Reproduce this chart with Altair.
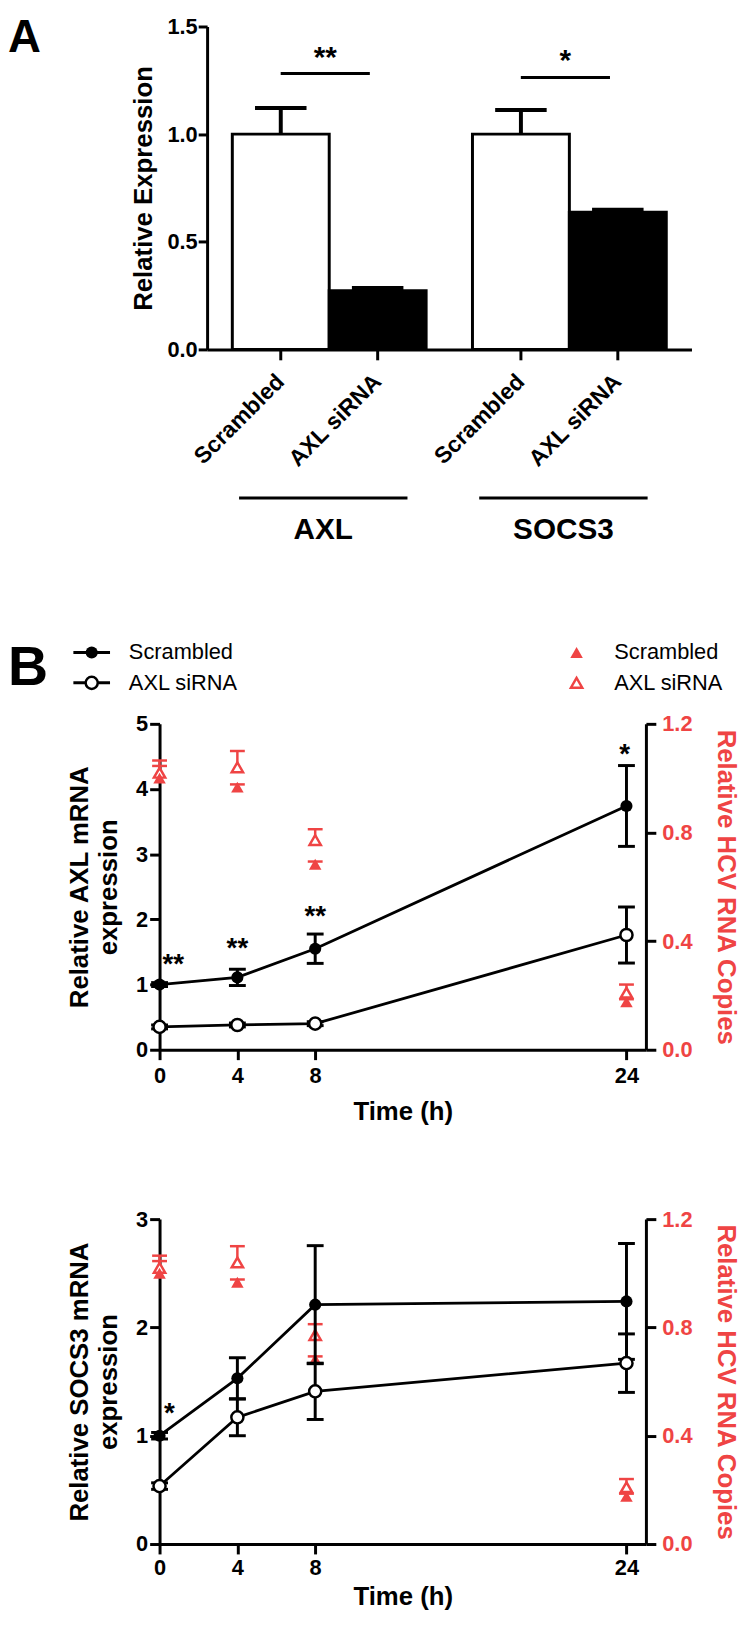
import altair as alt
import pandas as pd

FONT = "Liberation Sans, Arial, Helvetica, sans-serif"
RED = "#EF4444"
BLACK = "#000000"

# ---------------- Panel A data ----------------
group_order = ["AXL", "SOCS3"]
treat_order = ["Scrambled", "AXL siRNA"]
genes = ["AXL", "AXL", "SOCS3", "SOCS3"]
treatments = ["Scrambled", "AXL siRNA", "Scrambled", "AXL siRNA"]
rel_expression = [1.0, 0.273, 1.0, 0.637]
rel_expression_err = [0.121, 0.012, 0.112, 0.012]
sig_genes = ["AXL", "SOCS3"]
sig_line_level = [1.282, 1.263]
sig_star_level = [1.39, 1.375]
sig_labels = ["**", "*"]

# ---------------- Panel B data ----------------
hours = [0, 4, 8, 24]
axl_scr = [1.0, 1.11, 1.55, 3.74]
axl_scr_err = [0.03, 0.125, 0.225, 0.62]
axl_si = [0.35, 0.38, 0.40, 1.76]
axl_si_err = [0.03, 0.03, 0.03, 0.43]
socs_scr = [1.0, 1.53, 2.21, 2.24]
socs_scr_err = [0.03, 0.19, 0.545, 0.535]
socs_si = [0.535, 1.17, 1.41, 1.67]
socs_si_err = [0.03, 0.17, 0.26, 0.27]
hcv_scr = [1.0, 0.967, 0.683, 0.176]
hcv_scr_err = [0.045, 0.01, 0.01, 0.01]
hcv_si = [1.02, 1.04, 0.772, 0.21]
hcv_si_err = [0.045, 0.06, 0.04, 0.03]
axl_star_hour = [0.7, 4.0, 8.0, 23.9]
axl_star_level = [1.42, 1.67, 2.15, 4.64]
axl_star_label = ["**", "**", "**", "*"]
socs_star_hour = [0.5]
socs_star_level = [1.27]
socs_star_label = ["*"]

# ================= Panel A =================
SHIFT_A = 48            # panel A plot starts 48px right of panel B plots
WA, HA = 489, 326
dfA = pd.DataFrame({"gene": genes, "treatment": treatments,
                    "expr": rel_expression, "err": rel_expression_err})
dfA["top"] = dfA["expr"] + dfA["err"]
dfSig = pd.DataFrame({"gene": sig_genes, "line": sig_line_level,
                      "star": sig_star_level, "label": sig_labels})
dfGroup = pd.DataFrame({"gene": group_order})

xA = alt.X("gene:N", sort=group_order,
           scale=alt.Scale(domain=group_order, range=[SHIFT_A, SHIFT_A + WA],
                           paddingInner=0.193, paddingOuter=0.105),
           axis=alt.Axis(labels=False, ticks=False, title=None, domain=True,
                         domainWidth=3, domainColor=BLACK, grid=False))
xoA = alt.XOffset("treatment:N",
                  scale=alt.Scale(domain=treat_order, paddingInner=0, paddingOuter=0))
axisA = alt.Axis(values=[0, 0.5, 1.0, 1.5], format=".1f", title="Relative Expression",
                 offset=-SHIFT_A, grid=False, domainWidth=3, domainColor=BLACK,
                 tickWidth=3, tickColor=BLACK, tickSize=9, labelFont=FONT,
                 labelFontSize=22, labelFontWeight="bold", labelColor=BLACK,
                 labelPadding=1, labelOverlap=False, titleFont=FONT, titleFontSize=26,
                 titleFontWeight="bold", titleColor=BLACK, titlePadding=11)
scA = alt.Scale(domain=[0, 1.5], nice=False, zero=True)


def yA(f):
    return alt.Y(f"{f}:Q", scale=scA, axis=axisA)


baseA = alt.Chart(dfA)
bars = baseA.mark_bar(stroke=BLACK, strokeWidth=3).encode(
    x=xA, xOffset=xoA, y=yA("expr"),
    fill=alt.Fill("treatment:N", scale=alt.Scale(domain=treat_order, range=["white", BLACK]),
                  legend=None))
errA = baseA.mark_rule(color=BLACK, strokeWidth=4).encode(
    x=xA, xOffset=xoA, y=yA("expr"), y2="top:Q")
capA = baseA.mark_tick(orient="horizontal", color=BLACK, size=52, thickness=4, opacity=1).encode(
    x=xA, xOffset=xoA, y=yA("top"))
axTicksA = baseA.mark_rule(color=BLACK, strokeWidth=3).encode(
    x=xA, xOffset=xoA, y=alt.value(HA), y2=alt.value(HA + 11))
axLabelsA = baseA.mark_text(angle=315, align="right", baseline="middle", font=FONT,
                            fontSize=23, fontWeight="bold", color=BLACK).encode(
    x=xA, xOffset=xoA, y=alt.value(HA + 29), text="treatment:N")
sigLines = alt.Chart(dfSig).mark_tick(orient="horizontal", color=BLACK, size=90,
                                      thickness=3, opacity=1, xOffset=-4).encode(
    x=xA, y=yA("line"))
sigStars = alt.Chart(dfSig).mark_text(font=FONT, fontSize=30, fontWeight="bold",
                                      baseline="middle", dy=8, dx=-4, color=BLACK).encode(
    x=xA, y=yA("star"), text="label:N")
groupLines = alt.Chart(dfGroup).mark_tick(orient="horizontal", color=BLACK, size=170,
                                          thickness=3, opacity=1, xOffset=-6).encode(
    x=xA, y=alt.value(476))
groupLabels = alt.Chart(dfGroup).mark_text(font=FONT, fontSize=30, fontWeight="bold",
                                           baseline="middle", dx=-6, color=BLACK).encode(
    x=xA, y=alt.value(508), text="gene:N")
letterA = alt.Chart(pd.DataFrame({"panel": ["A"]})).mark_text(
    align="left", baseline="top", font=FONT, fontSize=46, fontWeight="bold", color=BLACK
).encode(x=alt.value(-153), y=alt.value(-10), text="panel:N")

panelA = alt.layer(bars, errA, capA, axTicksA, axLabelsA, sigLines, sigStars,
                   groupLines, groupLabels, letterA).properties(
    width=SHIFT_A + WA, height=HA)


# ================= Panel B =================
WB = 491


def b_panel(scr, scr_err, si, si_err, ymax, ytitle, star_h, star_y, star_lab, legend,
            height, xlabpad, xtitlepad):
    d = pd.DataFrame({"hour": hours * 2,
                      "series": [treat_order[0]] * 4 + [treat_order[1]] * 4,
                      "value": scr + si, "err": scr_err + si_err})
    d["lo"] = d["value"] - d["err"]
    d["hi"] = d["value"] + d["err"]
    dh = pd.DataFrame({"hour": hours * 2,
                       "series": [treat_order[0]] * 4 + [treat_order[1]] * 4,
                       "hcv": hcv_scr + hcv_si, "err": hcv_scr_err + hcv_si_err})
    dh["hi"] = dh["hcv"] + dh["err"]
    ds = pd.DataFrame({"hour": star_h, "level": star_y, "label": star_lab})

    xaxis = alt.Axis(values=hours, format="d", title="Time (h)", grid=False,
                     domainWidth=3, domainColor=BLACK, tickWidth=3, tickColor=BLACK,
                     tickSize=10, labelFont=FONT, labelFontSize=22, labelFontWeight="bold",
                     labelColor=BLACK, labelPadding=xlabpad, labelFlush=False,
                     labelOverlap=False, titleFont=FONT, titleFontSize=26,
                     titleFontWeight="bold", titleColor=BLACK, titlePadding=xtitlepad)
    X = alt.X("hour:Q", scale=alt.Scale(domain=[0, 25], nice=False, zero=False), axis=xaxis)

    sL = alt.Scale(domain=[0, ymax], nice=False)
    axL = alt.Axis(orient="left", values=list(range(ymax + 1)), format="d", title=ytitle,
                   titleLineHeight=30, grid=False, domainWidth=3, domainColor=BLACK,
                   tickWidth=3, tickColor=BLACK, tickSize=10, labelFont=FONT,
                   labelFontSize=22, labelFontWeight="bold", labelColor=BLACK,
                   labelPadding=2, labelOverlap=False, titleFont=FONT, titleFontSize=26,
                   titleFontWeight="bold", titleColor=BLACK, titlePadding=14)
    sR = alt.Scale(domain=[0, 1.2], nice=False)
    axR = alt.Axis(orient="right", values=[0, 0.4, 0.8, 1.2], format=".1f",
                   title="Relative HCV RNA Copies", grid=False, domainWidth=3,
                   domainColor=BLACK, tickWidth=3, tickColor=BLACK, tickSize=10,
                   labelFont=FONT, labelFontSize=22, labelFontWeight="bold",
                   labelColor=RED, labelPadding=6, labelOverlap=False, titleFont=FONT,
                   titleFontSize=26, titleFontWeight="bold", titleColor=RED,
                   titlePadding=21)

    def YL(f):
        return alt.Y(f"{f}:Q", scale=sL, axis=axL)

    def YR(f):
        return alt.Y(f"{f}:Q", scale=sR, axis=axR)

    # red (HCV RNA) layer
    r_err = alt.Chart(dh).mark_rule(color=RED, strokeWidth=2.5).encode(
        x=X, y=YR("hcv"), y2="hi:Q")
    r_cap = alt.Chart(dh).mark_tick(orient="horizontal", color=RED, size=15,
                                    thickness=2.5, opacity=1).encode(x=X, y=YR("hi"))
    r_si = alt.Chart(dh[dh["series"] == treat_order[1]]).mark_point(
        shape="triangle-up", filled=True, fill="white", stroke=RED, strokeWidth=2.5,
        size=130, opacity=1).encode(x=X, y=YR("hcv"))
    r_scr = alt.Chart(dh[dh["series"] == treat_order[0]]).mark_point(
        shape="triangle-up", filled=True, color=RED, size=160, opacity=1).encode(
        x=X, y=YR("hcv"))
    red = alt.layer(r_err, r_cap, r_si, r_scr)

    # black (mRNA) layer
    k_err = alt.Chart(d).mark_rule(color=BLACK, strokeWidth=3).encode(
        x=X, y=YL("lo"), y2="hi:Q")
    k_cap_lo = alt.Chart(d).mark_tick(orient="horizontal", color=BLACK, size=17,
                                      thickness=3, opacity=1).encode(x=X, y=YL("lo"))
    k_cap_hi = alt.Chart(d).mark_tick(orient="horizontal", color=BLACK, size=17,
                                      thickness=3, opacity=1).encode(x=X, y=YL("hi"))
    k_line = alt.Chart(d).mark_line(color=BLACK, strokeWidth=2.8).encode(
        x=X, y=YL("value"), detail="series:N")
    k_si = alt.Chart(d[d["series"] == treat_order[1]]).mark_point(
        shape="circle", filled=True, fill="white", stroke=BLACK, strokeWidth=2.5,
        size=150, opacity=1).encode(x=X, y=YL("value"))
    k_scr = alt.Chart(d[d["series"] == treat_order[0]]).mark_point(
        shape="circle", filled=True, color=BLACK, size=150, opacity=1).encode(
        x=X, y=YL("value"))
    k_star = alt.Chart(ds).mark_text(font=FONT, fontSize=28, fontWeight="bold",
                                     baseline="middle", dy=8, color=BLACK).encode(
        x=X, y=YL("level"), text="label:N")
    black = alt.layer(k_err, k_cap_lo, k_cap_hi, k_line, k_si, k_scr, k_star)

    layers = [red, black]
    if legend:
        for i, name in enumerate(treat_order):
            yv = -72 + i * 30.6
            base = alt.Chart(pd.DataFrame({"label": [name]}))
            layers.append(base.mark_rule(color=BLACK, strokeWidth=3).encode(
                x=alt.value(-87), x2=alt.value(-50), y=alt.value(yv)))
            if i == 0:
                layers.append(base.mark_point(shape="circle", filled=True, color=BLACK,
                                              size=150, opacity=1).encode(
                    x=alt.value(-68.5), y=alt.value(yv)))
                layers.append(base.mark_point(shape="triangle-up", filled=True, color=RED,
                                              size=160, opacity=1).encode(
                    x=alt.value(421), y=alt.value(yv)))
            else:
                layers.append(base.mark_point(shape="circle", filled=True, fill="white",
                                              stroke=BLACK, strokeWidth=2.5, size=150,
                                              opacity=1).encode(
                    x=alt.value(-68.5), y=alt.value(yv)))
                layers.append(base.mark_point(shape="triangle-up", filled=True,
                                              fill="white", stroke=RED, strokeWidth=2.5,
                                              size=130, opacity=1).encode(
                    x=alt.value(421), y=alt.value(yv)))
            layers.append(base.mark_text(align="left", baseline="middle", font=FONT,
                                         fontSize=22, color=BLACK).encode(
                x=alt.value(-31), y=alt.value(yv), text="label:N"))
            layers.append(base.mark_text(align="left", baseline="middle", font=FONT,
                                         fontSize=22, color=BLACK).encode(
                x=alt.value(459), y=alt.value(yv), text="label:N"))
        layers.append(alt.Chart(pd.DataFrame({"panel": ["B"]})).mark_text(
            align="left", baseline="top", font=FONT, fontSize=56, fontWeight="bold",
            color=BLACK).encode(x=alt.value(-153), y=alt.value(-83), text="panel:N"))

    return alt.layer(*layers).resolve_scale(y="independent").properties(
        width=WB, height=height)


panelB1 = b_panel(axl_scr, axl_scr_err, axl_si, axl_si_err, 5,
                  ["Relative AXL mRNA", "expression"],
                  axl_star_hour, axl_star_level, axl_star_label, True, 329, 6, 12)
panelB2 = b_panel(socs_scr, socs_scr_err, socs_si, socs_si_err, 3,
                  ["Relative SOCS3 mRNA", "expression"],
                  socs_star_hour, socs_star_level, socs_star_label, False, 328, 4, 5)

rowB = alt.vconcat(panelB1, panelB2, spacing=171, bounds="flush")
chart = alt.vconcat(panelA, rowB, spacing=378, bounds="flush").properties(
    padding={"left": 0, "top": 0, "right": 3, "bottom": 0}
).configure(font=FONT).configure_view(strokeWidth=0, stroke="transparent")

chart.save("out.html", embed_options={"renderer": "svg", "actions": False})
